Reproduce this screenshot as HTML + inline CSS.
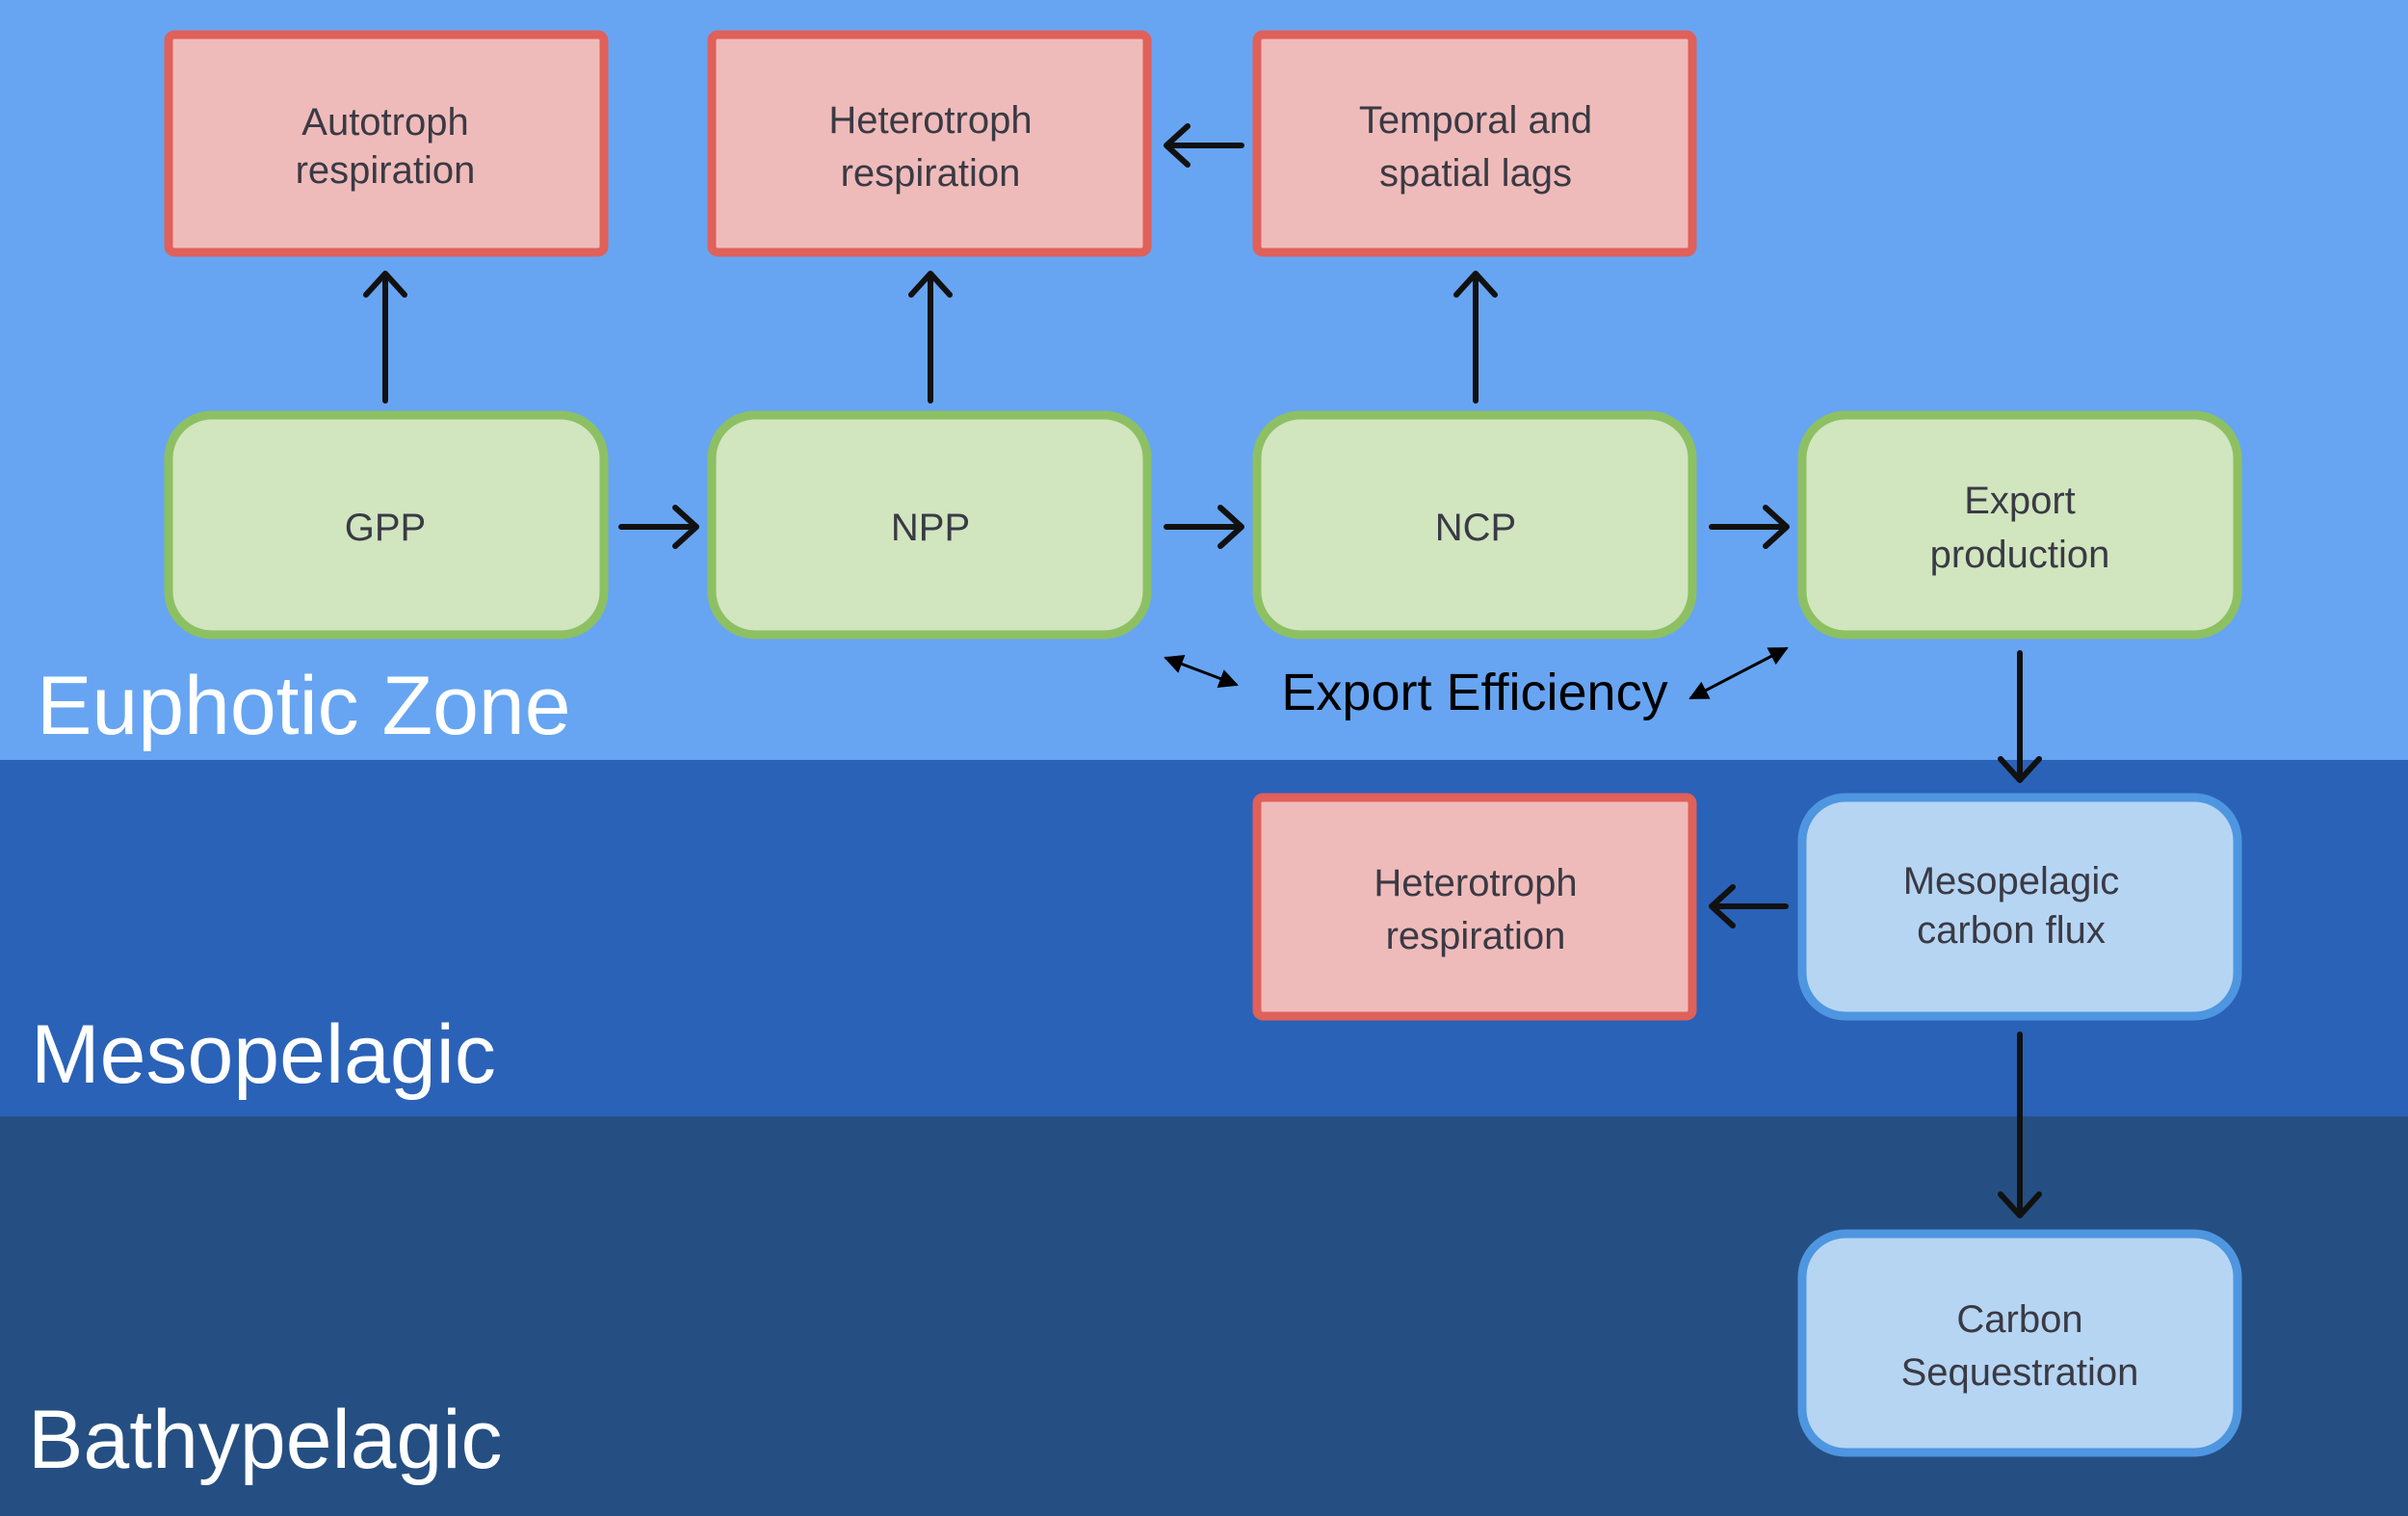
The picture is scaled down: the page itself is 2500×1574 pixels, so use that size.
<!DOCTYPE html>
<html><head><meta charset="utf-8"><style>
html,body{margin:0;padding:0;width:2500px;height:1574px;overflow:hidden}
</style></head><body>
<svg width="2500" height="1574" viewBox="0 0 2500 1574" xmlns="http://www.w3.org/2000/svg">
<defs>
<marker id="ah" markerWidth="10" markerHeight="10" refX="7" refY="5" orient="auto" markerUnits="userSpaceOnUse" viewBox="0 0 10 10">
</marker>
<marker id="tri" viewBox="0 0 10 10" refX="9" refY="5" markerWidth="22" markerHeight="20" markerUnits="userSpaceOnUse" orient="auto-start-reverse"><path d="M0,0 L10,5 L0,10 z" fill="#000"/></marker>
</defs>
<rect x="0" y="0" width="2500" height="789" fill="#67a5f2"/>
<rect x="0" y="789" width="2500" height="370" fill="#2a62b8"/>
<rect x="0" y="1159" width="2500" height="415" fill="#254f82"/>

<g font-family="Liberation Sans, DejaVu Sans, sans-serif" fill="#fff" font-size="86">
<text x="38" y="762">Euphotic Zone</text>
<text x="32" y="1124">Mesopelagic</text>
<text x="29" y="1524">Bathypelagic</text>
</g>

<g stroke-width="9">
<rect x="175" y="36" width="452" height="226" rx="6" fill="#efbbba" stroke="#e0605a"/>
<rect x="739" y="36" width="452" height="226" rx="6" fill="#efbbba" stroke="#e0605a"/>
<rect x="1305" y="36" width="452" height="226" rx="6" fill="#efbbba" stroke="#e0605a"/>
<rect x="1305" y="828" width="452" height="227" rx="6" fill="#efbbba" stroke="#e0605a"/>
<rect x="175" y="431" width="452" height="228" rx="45" fill="#d1e5bf" stroke="#8dc063"/>
<rect x="739" y="431" width="452" height="228" rx="45" fill="#d1e5bf" stroke="#8dc063"/>
<rect x="1305" y="431" width="452" height="228" rx="45" fill="#d1e5bf" stroke="#8dc063"/>
<rect x="1871" y="431" width="452" height="228" rx="45" fill="#d1e5bf" stroke="#8dc063"/>
<rect x="1871" y="828" width="452" height="227" rx="45" fill="#b6d5f3" stroke="#4e96e0"/>
<rect x="1871" y="1281" width="452" height="227" rx="45" fill="#b6d5f3" stroke="#4e96e0"/>
</g>

<g font-family="Liberation Sans, DejaVu Sans, sans-serif" fill="#3a3a44" font-size="40" text-anchor="middle">
<text x="400" y="140">Autotroph</text><text x="400" y="190">respiration</text>
<text x="966" y="138">Heterotroph</text><text x="966" y="193">respiration</text>
<text x="1532" y="138">Temporal and</text><text x="1532" y="193">spatial lags</text>
<text x="400" y="561">GPP</text>
<text x="966" y="561">NPP</text>
<text x="1532" y="561">NCP</text>
<text x="2097" y="533">Export</text><text x="2097" y="589">production</text>
<text x="1532" y="930">Heterotroph</text><text x="1532" y="985">respiration</text>
<text x="2088" y="928">Mesopelagic</text><text x="2088" y="979">carbon flux</text>
<text x="2097" y="1383">Carbon</text><text x="2097" y="1438">Sequestration</text>
</g>

<g stroke="#111" stroke-width="6" fill="none" stroke-linecap="round" stroke-linejoin="round">
<path d="M400 416 V284 M380 306 L400 284 L420 306"/>
<path d="M966 416 V284 M946 306 L966 284 L986 306"/>
<path d="M1532 416 V284 M1512 306 L1532 284 L1552 306"/>
<path d="M645 547 H723 M701 527 L723 547 L701 567"/>
<path d="M1211 547 H1289 M1267 527 L1289 547 L1267 567"/>
<path d="M1777 547 H1855 M1833 527 L1855 547 L1833 567"/>
<path d="M1289 151 H1211 M1233 131 L1211 151 L1233 171"/>
<path d="M1854 941 H1777 M1799 921 L1777 941 L1799 961"/>
<path d="M2097 678 V810 M2077 788 L2097 810 L2117 788"/>
<path d="M2097 1074 V1262 M2077 1240 L2097 1262 L2117 1240"/>
</g>
<g stroke="#000" stroke-width="3">
<line x1="1210" y1="683" x2="1284" y2="711" marker-start="url(#tri)" marker-end="url(#tri)"/>
<line x1="1755" y1="725" x2="1855" y2="673" marker-start="url(#tri)" marker-end="url(#tri)"/>
</g>
<text x="1531" y="737" font-family="Liberation Sans, DejaVu Sans, sans-serif" font-size="54" fill="#000" text-anchor="middle">Export Efficiency</text>
</svg>
</body></html>
